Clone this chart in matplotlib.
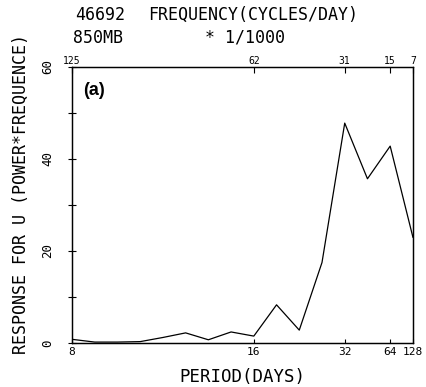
import matplotlib.pyplot as plt

# harmonic number k of a 128-day record -> frequency k/128 cycles/day
harmonic = [16, 15, 14, 13, 12, 11, 10, 9, 8, 7, 6, 5, 4, 3, 2, 1]
response = [0.8, 0.2, 0.2, 0.3, 1.2, 2.2, 0.7, 2.4, 1.5, 8.3, 2.8, 17.5, 47.8, 35.7, 42.8, 23.0]

period_ticks = [8, 16, 32, 64, 128]
period_labels = ['8', '16', '32', '64', '128']
freq_labels = ['125', '62', '31', '15', '7']

freq = [k / 128.0 for k in harmonic]
tick_pos = [1.0 / p for p in period_ticks]

mono = 'DejaVu Sans Mono'

fig = plt.figure(figsize=(4.27, 3.87), dpi=100)
ax = fig.add_axes([0.1686, 0.1137, 0.7984, 0.7132])

ax.plot(freq, response, color='black', lw=0.9)

ax.set_xlim(0.125, 1.0 / 128)
ax.set_ylim(0, 60)

ax.set_xticks(tick_pos)
ax.set_xticklabels(period_labels, fontfamily=mono, fontsize=8)
ax.set_yticks([0, 20, 40, 60])
ax.set_yticklabels(['0', '20', '40', '60'], fontfamily=mono, fontsize=9, rotation=90, va='center')
ax.set_yticks([10, 30, 50], minor=True)
ax.tick_params(axis='y', which='both', direction='inout', length=6, width=0.8, pad=10)
ax.tick_params(axis='x', direction='in', length=3, width=0.8, pad=3)

top = ax.twiny()
top.set_xlim(ax.get_xlim())
top.set_xticks(tick_pos)
top.set_xticklabels(freq_labels, fontfamily=mono, fontsize=7)
top.tick_params(axis='x', direction='in', length=4, width=0.8, pad=1)

for a in (ax, top):
    for s in a.spines.values():
        s.set_linewidth(0.9)

ax.set_xlabel('PERIOD(DAYS)', fontfamily=mono, fontsize=12.5, labelpad=8)
ax.set_ylabel('RESPONSE FOR U (POWER*FREQUENCE)', fontfamily=mono, fontsize=12)
ax.yaxis.set_label_coords(-0.124, 0.54)

fig.text(0.176, 0.961, '46692', fontfamily=mono, fontsize=12, ha='left', va='center')
fig.text(0.347, 0.961, 'FREQUENCY(CYCLES/DAY)', fontfamily=mono, fontsize=12, ha='left', va='center')
fig.text(0.171, 0.902, '850MB', fontfamily=mono, fontsize=12, ha='left', va='center')
fig.text(0.48, 0.902, '* 1/1000', fontfamily=mono, fontsize=12, ha='left', va='center')

ax.text(0.032, 0.915, '(a)', transform=ax.transAxes, fontsize=13, fontweight='bold',
        fontfamily='Liberation Sans', ha='left', va='center')

fig.savefig('out.png', dpi=100)
